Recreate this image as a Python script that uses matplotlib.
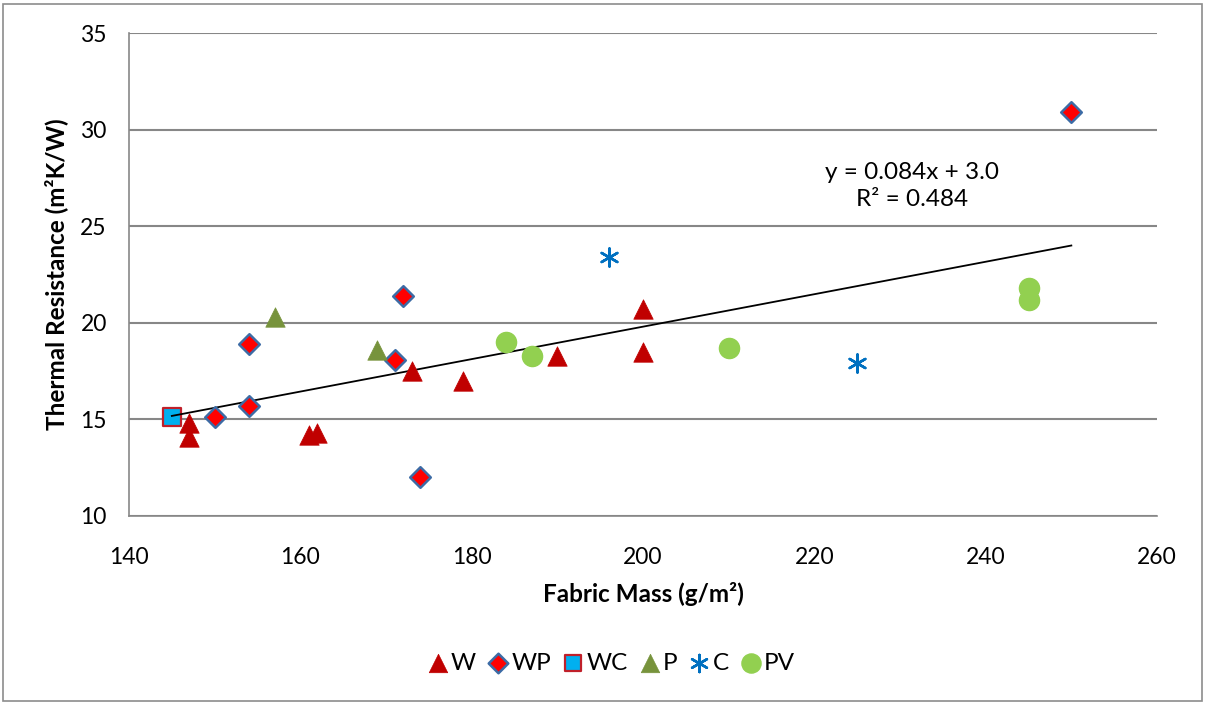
import matplotlib
matplotlib.use("Agg")
import matplotlib.pyplot as plt
from matplotlib.patches import Rectangle
import numpy as np

plt.rcParams['font.family'] = ['Lato', 'DejaVu Sans']

# Data
W_x = [147, 147, 161, 162, 173, 179, 190, 200, 200]
W_y = [14.8, 14.1, 14.2, 14.3, 17.5, 17.0, 18.3, 20.7, 18.5]
WP_x = [150, 154, 154, 171, 172, 174, 250]
WP_y = [15.1, 15.7, 18.9, 18.1, 21.4, 12.0, 30.9]
WC_x = [145]
WC_y = [15.1]
P_x = [157, 169]
P_y = [20.3, 18.6]
C_x = [196, 225]
C_y = [23.4, 17.9]
PV_x = [184, 187, 210, 245, 245]
PV_y = [19.0, 18.3, 18.7, 21.8, 21.2]

trend_slope = 0.084
trend_intercept = 3.0
trend_x = [145, 250]
equation_text = "y = 0.084x + 3.0\nR² = 0.484"

fig = plt.figure(figsize=(12.07, 7.04), dpi=100)
ax = fig.add_axes([129/1207, 1-516/704, (1157-129)/1207, (516-33)/704])

fs = 16.5
lfs = 17.5
grid_c = '#878787'

ax.set_xlim(140, 260)
ax.set_ylim(10, 35)
ax.set_xticks(np.arange(140, 261, 20))
ax.set_yticks(np.arange(10, 36, 5))
ax.yaxis.grid(True, color=grid_c, linewidth=1.5)
ax.set_axisbelow(True)
for s in ['top', 'right']:
    ax.spines[s].set_visible(False)
for s in ['left', 'bottom']:
    ax.spines[s].set_color(grid_c)
    ax.spines[s].set_linewidth(1.2)
ax.tick_params(length=0, labelsize=fs, colors='black')
ax.tick_params(axis='y', pad=16)
ax.tick_params(axis='x', pad=22)

tx = np.array(trend_x, dtype=float)
ax.plot(tx, trend_slope*tx + trend_intercept, color='black', lw=1.3, zorder=3)

ax.scatter(W_x, W_y, marker='^', s=14**2, color='#C00000', edgecolors='#C00000', linewidths=0.5, label='W', zorder=4)
ax.scatter(WP_x, WP_y, marker='D', s=10.5**2, color='#FF0000', edgecolors='#3C6BA5', linewidths=1.8, label='WP', zorder=4)
ax.scatter(WC_x, WC_y, marker='s', s=12.5**2, color='#00B0F0', edgecolors='#C0202A', linewidths=1.6, label='WC', zorder=2)
ax.scatter(P_x, P_y, marker='^', s=14**2, color='#77933C', edgecolors='#77933C', linewidths=0.5, label='P', zorder=4)
ax.scatter(C_x, C_y, marker=(6, 2, 0), s=13**2, color='#0070C0', linewidths=1.8, label='C', zorder=4)
ax.scatter(PV_x, PV_y, marker='o', s=14.5**2, color='#92D050', edgecolors='#92D050', label='PV', zorder=4)

fig.text(912/1207, 1-186/704, equation_text, fontsize=lfs, ha='center', va='center', linespacing=1.3)

ax.set_xlabel('Fabric Mass (g/m²)', fontsize=lfs, fontweight='bold')
ax.set_ylabel('Thermal Resistance (m²K/W)', fontsize=lfs, fontweight='bold')
ax.xaxis.set_label_coords(0.5, (516-582)/(516-33), transform=ax.transAxes)
ax.yaxis.set_label_coords((68-129)/(1157-129), 0.5, transform=ax.transAxes)

leg = fig.legend(loc='center', bbox_to_anchor=(611/1207, 1-663/704), ncol=6, frameon=False,
                 fontsize=lfs, handletextpad=0.1, columnspacing=0.45, handlelength=0.9,
                 scatterpoints=1, markerscale=0.95)

fig.patches.append(Rectangle((3/1207, 3/704), 1199/1207, 697/704, transform=fig.transFigure,
                             fill=False, edgecolor='#8c8c8c', linewidth=1.2))

fig.savefig('out.png', dpi=100)
